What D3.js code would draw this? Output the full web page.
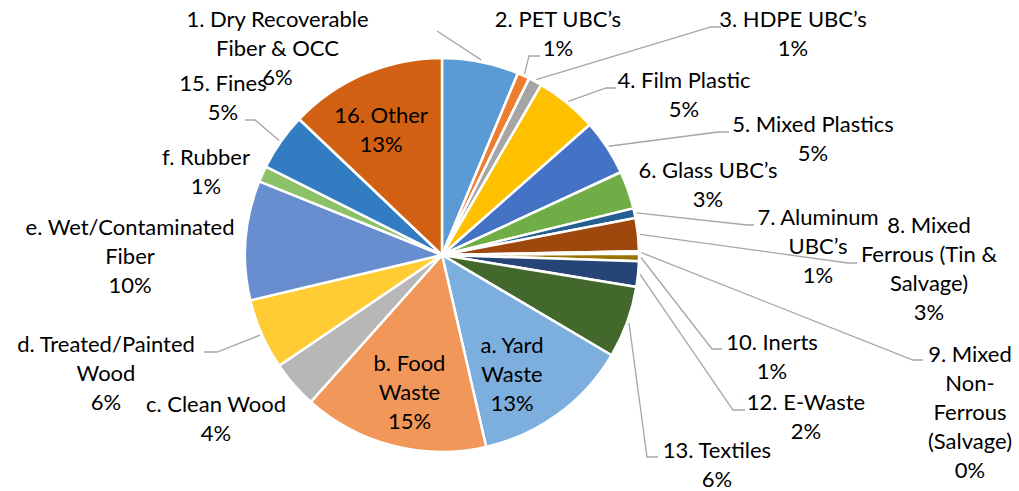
<!DOCTYPE html>
<meta charset="utf-8">
<style>
body { margin: 0; background: #fff; }
text { font-family: Lato, "Noto Sans", sans-serif; font-size: 22px; fill: #000; }
.leader { fill: none; stroke: #a6a6a6; stroke-width: 1.3px; }
</style>
<svg width="1019" height="491"></svg>
<script src="https://d3js.org/d3.v7.min.js"></script>
<script>

// slice order, clockwise from 12 o'clock
var categories = [
  "1. Dry Recoverable Fiber & OCC", "2. PET UBC’s", "3. HDPE UBC’s", "4. Film Plastic",
  "5. Mixed Plastics", "6. Glass UBC’s", "7. Aluminum UBC’s", "8. Mixed Ferrous (Tin & Salvage)",
  "9. Mixed Non-Ferrous (Salvage)", "10. Inerts", "12. E-Waste", "13. Textiles",
  "a. Yard Waste", "b. Food Waste", "c. Clean Wood", "d. Treated/Painted Wood",
  "e. Wet/Contaminated Fiber", "f. Rubber", "15. Fines", "16. Other"
];

// share of total, percent
var values = [6.3, 1.0, 1.1, 5.1, 4.6, 3.1, 0.8, 2.7, 0.2, 0.6,
              2.1, 5.9, 12.9, 15.2, 3.9, 5.8, 9.8, 1.3, 4.7, 12.9];

var colors = ["#5b9bd5", "#ed7d31", "#a5a5a5", "#ffc000", "#4472c4", "#70ad47", "#255e91", "#9e480e",
              "#636363", "#997300", "#264478", "#43682b", "#7cafdd", "#f1975a", "#b7b7b7", "#ffcd33",
              "#698ed0", "#8cc168", "#327dc2", "#d26012"];

// hand placed labels (like excel): centre x, first baseline, wrapped name, leader end [x, y, elbow x]
var labelLayout = [
  {x: 277.5, y: 27, lines: ["1. Dry Recoverable", "Fiber & OCC"], leader: [437, 31, 437]},
  {x: 558, y: 27, lines: ["2. PET UBC’s"], leader: [540, 56, 529]},
  {x: 793, y: 27, lines: ["3. HDPE UBC’s"], leader: [721, 27, 711]},
  {x: 684, y: 88, lines: ["4. Film Plastic"], leader: [616, 88, 606]},
  {x: 813, y: 132, lines: ["5. Mixed Plastics"], leader: [729, 132, 718]},
  {x: 708, y: 178, lines: ["6. Glass UBC’s"]},
  {x: 818, y: 225, lines: ["7. Aluminum", "UBC’s"], leader: [754, 225, 747]},
  {x: 929, y: 233, lines: ["8. Mixed", "Ferrous (Tin &", "Salvage)"], leader: [857, 263, 848]},
  {x: 970, y: 362, lines: ["9. Mixed", "Non-", "Ferrous", "(Salvage)"], leader: [923, 360, 913]},
  {x: 772, y: 350, lines: ["10. Inerts"], leader: [722, 349, 712]},
  {x: 806, y: 410, lines: ["12. E-Waste"], leader: [745, 410, 733]},
  {x: 717, y: 458, lines: ["13. Textiles"], leader: [658, 457, 647]},
  {x: 512, y: 353, lines: ["a. Yard", "Waste"]},
  {x: 409.5, y: 371, lines: ["b. Food", "Waste"]},
  {x: 216, y: 412, lines: ["c. Clean Wood"]},
  {x: 106, y: 352, lines: ["d. Treated/Painted", "Wood"], leader: [204, 352, 217]},
  {x: 130, y: 235, lines: ["e. Wet/Contaminated", "Fiber"]},
  {x: 206, y: 165, lines: ["f. Rubber"]},
  {x: 223, y: 91, lines: ["15. Fines"], leader: [245, 120, 255]},
  {x: 381, y: 123, lines: ["16. Other"]}
];

var svg = d3.select("svg"),
    cx = 442, cy = 255, radius = 197,
    lineHeight = 29;

var data = categories.map(function(c, i) { return {name: c, value: values[i], index: i}; });

var pie = d3.pie()
    .sort(null)
    .value(function(d) { return d.value; });

var arc = d3.arc().innerRadius(0).outerRadius(radius);
var edge = d3.arc().innerRadius(radius + 2).outerRadius(radius + 2);

var color = d3.scaleOrdinal().domain(categories).range(colors);

var g = svg.append("g").attr("transform", "translate(" + cx + "," + cy + ")");
var arcs = pie(data);

g.selectAll("path.slice")
  .data(arcs)
  .enter().append("path")
    .attr("class", "slice")
    .attr("d", arc)
    .attr("fill", function(d) { return color(d.data.name); })
    .attr("stroke", "#fff")
    .attr("stroke-width", 2.5)
    .attr("stroke-linejoin", "round");

// leader lines
svg.selectAll("path.leader")
  .data(arcs.filter(function(d) { return labelLayout[d.index].leader; }))
  .enter().append("path")
    .attr("class", "leader")
    .attr("d", function(d) {
      var p = edge.centroid(d), l = labelLayout[d.index].leader;
      return "M" + (p[0] + cx) + "," + (p[1] + cy) + "L" + l[2] + "," + l[1] + "L" + l[0] + "," + l[1];
    });

// labels
var labels = svg.selectAll("text.label")
  .data(arcs)
  .enter().append("text")
    .attr("class", "label")
    .attr("text-anchor", "middle")
    .attr("transform", function(d) {
      var l = labelLayout[d.index];
      return "translate(" + l.x + "," + l.y + ")";
    });

labels.selectAll("tspan")
  .data(function(d) {
    return labelLayout[d.index].lines.concat([Math.round(d.data.value) + "%"]);
  })
  .enter().append("tspan")
    .attr("x", 0)
    .attr("y", function(d, i) { return i * lineHeight; })
    .text(function(d) { return d; });

</script>
